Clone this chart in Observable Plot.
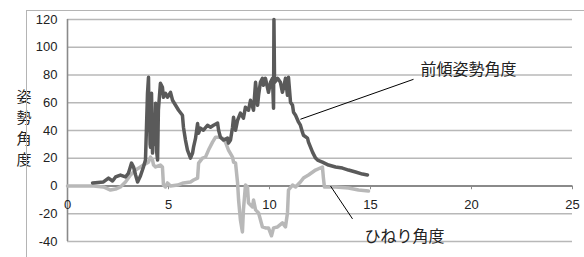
<!DOCTYPE html>
<html><head><meta charset="utf-8">
<script src="https://cdn.jsdelivr.net/npm/d3@7"></script>
<script src="https://cdn.jsdelivr.net/npm/@observablehq/plot@0.6"></script>
<style>
html,body{margin:0;padding:0;background:#fff;}
#wrap{position:relative;width:584px;height:257px;overflow:hidden;}
#border{position:absolute;left:26px;top:10px;width:600px;height:300px;border:1px solid #b4b4b4;box-sizing:border-box;pointer-events:none;}
</style></head>
<body><div id="wrap"><div id="border"></div><div id="chart"></div></div>
<script>
const yTicks = [-40, -20, 0, 20, 40, 60, 80, 100, 120];
const xTicks = [0, 5, 10, 15, 20, 25];
const yLabel = "姿勢角度";
const seriesNames = ["前傾姿勢角度", "ひねり角度"];

const forwardX = [1.24,1.78,2.03,2.23,2.38,2.62,2.87,3.02,3.17,3.27,3.37,3.47,3.61,3.76,3.86,3.91,3.96,4.01,4.04,4.06,4.09,4.11,4.14,4.16,4.19,4.21,4.24,4.26,4.31,4.36,4.41,4.46,4.50,4.60,4.70,4.75,4.85,4.95,5.10,5.20,5.35,5.50,5.69,5.74,5.84,5.94,6.09,6.19,6.24,6.34,6.44,6.49,6.58,6.73,6.93,7.08,7.23,7.43,7.48,7.57,7.72,7.92,7.97,8.07,8.17,8.22,8.32,8.42,8.56,8.71,8.81,8.96,9.06,9.21,9.31,9.41,9.46,9.55,9.65,9.70,9.80,9.95,10.05,10.15,10.20,10.22,10.25,10.40,10.54,10.64,10.69,10.79,10.89,10.94,11.04,11.14,11.19,11.29,11.44,11.53,11.63,11.68,11.88,11.93,12.03,12.13,12.28,12.38,12.62,12.92,13.27,13.61,13.91,14.26,14.60,14.85];
const forwardY = [2.2,2.9,5.7,3.6,6.5,7.9,6.5,9.3,16.5,13.7,7.9,2.9,7.2,13.7,18.7,42.4,66.8,78.3,40.0,54.6,30.0,28.0,60.0,66.8,35.0,23.7,50.0,42.4,30.0,59.6,25.0,18.7,54.6,74.0,71.1,64.0,66.8,64.0,67.5,61.8,58.2,54.6,51.0,42.4,33.1,25.9,20.1,23.7,28.0,34.5,45.0,38.1,41.7,40.2,43.8,42.4,43.8,45.3,40.2,35.2,33.1,34.5,30.9,33.1,42.4,49.6,40.2,47.4,52.5,48.9,56.8,54.6,61.8,54.6,74.7,58.2,65.4,74.7,77.6,72.6,77.6,67.5,74.7,77.6,56.1,120,74.7,77.6,74.7,67.5,70.4,77.6,65.4,78.3,60.4,58.2,53.2,51.0,46.0,43.8,38.8,36.6,34.5,31.6,28.0,24.4,20.1,18.7,17.2,15.1,13.7,12.9,11.5,10.1,8.6,7.9];

const twistX = [0,1.29,1.78,2.13,2.38,2.62,2.87,3.12,3.37,3.61,3.76,4.01,4.11,4.21,4.26,4.36,4.60,4.70,4.75,4.85,4.95,5.10,5.45,5.74,6.09,6.24,6.44,6.49,6.68,6.83,6.98,7.18,7.33,7.48,7.67,7.82,7.97,8.17,8.22,8.32,8.42,8.47,8.56,8.66,8.71,8.81,8.91,8.96,9.16,9.21,9.31,9.46,9.65,9.80,9.95,10.10,10.20,10.40,10.64,10.79,10.89,10.94,11.14,11.29,11.53,11.68,11.93,12.28,12.62,12.67,12.72,13.27,13.91,14.41,14.90];
const twistY = [0,0,-0.7,-2.9,-2.2,-0.7,2.9,7.9,11.5,13.7,15.1,17.2,20.8,18.7,15.1,13.7,15.1,13.7,0.7,-0.7,2.2,0,0.7,2.2,2.9,4.3,5.7,16.5,20.1,20.8,25.9,31.6,35.2,35.2,34.5,31.6,25.9,20.8,17.2,16.5,2.2,-10.1,-24.4,-33.1,-17.2,0.7,-0.7,-12.2,-15.1,-10.1,-17.2,-19.4,-29.5,-30.2,-30.2,-35.9,-30.2,-29.5,-26.6,-29.5,-19.4,-2.9,0.7,-0.7,2.9,5.7,7.9,11.5,13.7,5.7,-0.7,-0.7,-1.4,-2.9,-3.6];

// annotation anchors (data units)
const labelForward = {x: 17.48, y: 83.4, lx1: 17.13, ly1: 76.9, lx2: 11.53, ly2: 48.1};
const labelTwist = {x: 14.70, y: -36.6, lx1: 13.02, ly1: 0, lx2: 14.11, ly2: -23.7};

const forward = forwardX.map((x, i) => ({x, y: forwardY[i]}));
const twist = twistX.map((x, i) => ({x, y: twistY[i]}));

const font = "'Noto Sans CJK JP', 'Liberation Sans', sans-serif";

const chart = Plot.plot({
  width: 584, height: 257,
  marginLeft: 67, marginRight: 12, marginTop: 19, marginBottom: 16,
  style: {fontFamily: font, fontSize: "13px", color: "#222", background: "transparent", overflow: "visible"},
  x: {domain: [0, 25], ticks: xTicks, axis: null},
  y: {domain: [-40, 120], ticks: yTicks, axis: null},
  marks: [
    Plot.ruleY(yTicks.filter(d => d !== 0), {stroke: "#b8b8b8", strokeWidth: 1.6}),
    Plot.ruleX([0], {stroke: "#8a8a8a", strokeWidth: 1.6}),
    Plot.ruleY([0], {stroke: "#8a8a8a", strokeWidth: 2}),
    Plot.ruleX(xTicks, {x: d => d, y1: 0, y2: -2.7, stroke: "#8a8a8a", strokeWidth: 1}),
    Plot.text(yTicks, {x: 0, y: d => d, text: d => String(d), textAnchor: "end", dx: -10, fontSize: 13, fontFamily: "'Liberation Sans', sans-serif", fill: "#222"}),
    Plot.text(xTicks, {x: d => d, y: 0, text: d => String(d), dy: 19, fontSize: 13, fontFamily: "'Liberation Sans', sans-serif", fill: "#222"}),
    Plot.line(twist, {x: "x", y: "y", stroke: "#b8b8b8", strokeWidth: 3.5, strokeLinejoin: "round"}),
    Plot.line(forward, {x: "x", y: "y", stroke: "#5a5a5a", strokeWidth: 3.5, strokeLinejoin: "round"}),
    Plot.link([labelForward, labelTwist], {x1: "lx1", y1: "ly1", x2: "lx2", y2: "ly2", stroke: "#000", strokeWidth: 1}),
    Plot.text([labelForward], {x: "x", y: "y", text: () => seriesNames[0], textAnchor: "start", fontSize: 16, fill: "#222"}),
    Plot.text([labelTwist], {x: "x", y: "y", text: () => seriesNames[1], textAnchor: "start", fontSize: 16, fill: "#222"}),
    Plot.text([yLabel], {frameAnchor: "left", text: d => d.split("").join("\n"), dx: -51, dy: -4, lineHeight: 1.4, fontSize: 15, fill: "#222"})
  ]
});
document.getElementById("chart").appendChild(chart);
</script></body></html>
